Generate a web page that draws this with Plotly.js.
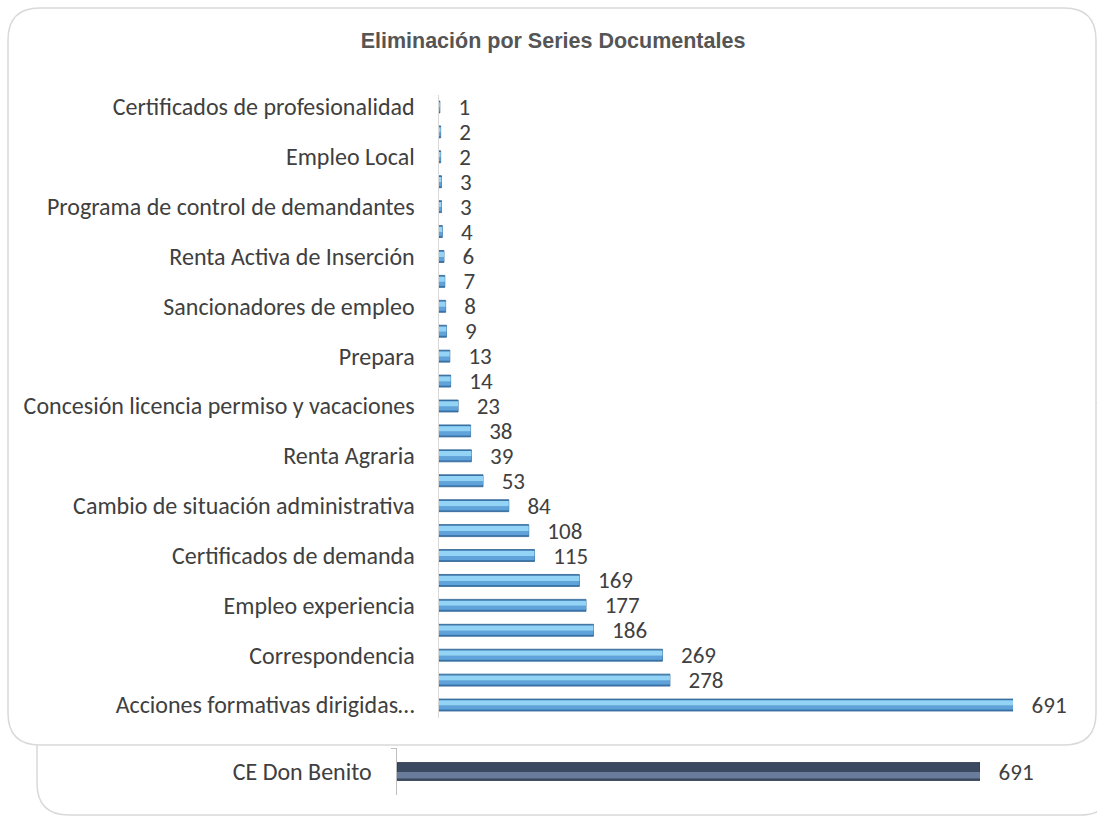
<!DOCTYPE html>
<html><head><meta charset="utf-8">
<script src="https://cdn.plot.ly/plotly-3.0.1.min.js"></script>
<style>html,body{margin:0;padding:0;background:#fff}#chart{width:1097px;height:817px}</style>
</head><body><div id="chart"></div>
<script>
// ---- data ----
const seriesLabels = ["Certificados de profesionalidad","","Empleo Local","","Programa de control de demandantes","","Renta Activa de Inserción","","Sancionadores de empleo","","Prepara","","Concesión licencia permiso y vacaciones","","Renta Agraria","","Cambio de situación administrativa","","Certificados de demanda","","Empleo experiencia","","Correspondencia","","Acciones formativas dirigidas…"];
const seriesValues = [1,2,2,3,3,4,6,7,8,9,13,14,23,38,39,53,84,108,115,169,177,186,269,278,691];
const centreLabels = ["CE Don Benito"];
const centreValues = [691];
const chartTitle = "Eliminación por Series Documentales";

// ---- layout helpers ----
const W = 1097, H = 817;
const fx = x => x / W, fy = y => 1 - y / H;
function roundRect(x0, y0, x1, y1, r) {
  return `M ${fx(x0+r)},${fy(y0)} L ${fx(x1-r)},${fy(y0)} Q ${fx(x1)},${fy(y0)} ${fx(x1)},${fy(y0+r)} ` +
         `L ${fx(x1)},${fy(y1-r)} Q ${fx(x1)},${fy(y1)} ${fx(x1-r)},${fy(y1)} ` +
         `L ${fx(x0+r)},${fy(y1)} Q ${fx(x0)},${fy(y1)} ${fx(x0)},${fy(y1-r)} ` +
         `L ${fx(x0)},${fy(y0+r)} Q ${fx(x0)},${fy(y0)} ${fx(x0+r)},${fy(y0)} Z`;
}

const idx = seriesValues.map((_, i) => i);
const tickIdx = idx.filter(i => seriesLabels[i] !== "");
const txtFont = {family: "Carlito, Lato, 'Liberation Sans', sans-serif", size: 24, color: "#404040"};
const valFont = {family: "Carlito, Lato, 'Liberation Sans', sans-serif", size: 23, color: "#404040"};
const pad = "\u00a0\u00a0\u00a0";

const traces = [
  { type: "bar", orientation: "h", x: seriesValues, y: idx, xaxis: "x", yaxis: "y",
    width: 0.48, marker: {color: "#3C77AE", line: {color: "#2F6594", width: 0.8}},
    texttemplate: pad + "%{x}", textposition: "outside", constraintext: "none",
    textfont: valFont, cliponaxis: false, hoverinfo: "skip" },
  { type: "bar", orientation: "h", x: seriesValues, y: idx, xaxis: "x", yaxis: "y",
    width: 0.16, offset: 0.02, marker: {color: "#5FA3DA", line: {width: 0}}, hoverinfo: "skip" },
  { type: "bar", orientation: "h", x: seriesValues, y: idx, xaxis: "x", yaxis: "y",
    width: 0.21, offset: -0.19, marker: {color: "#93D3F6", line: {width: 0}}, hoverinfo: "skip" },
  { type: "bar", orientation: "h", x: centreValues, y: centreLabels, xaxis: "x2", yaxis: "y2",
    width: 0.38, marker: {color: "#3B4A60", line: {color: "#28344A", width: 0.8}},
    texttemplate: pad + "%{x}", textposition: "outside", constraintext: "none",
    textfont: valFont, cliponaxis: false, hoverinfo: "skip" },
  { type: "bar", orientation: "h", x: centreValues, y: centreLabels, xaxis: "x2", yaxis: "y2",
    width: 0.14, offset: -0.15, marker: {color: "#6A7C9B", line: {width: 0}}, hoverinfo: "skip" }
];

const layout = {
  width: W, height: H, margin: {l: 0, r: 0, t: 0, b: 0},
  paper_bgcolor: "#ffffff", plot_bgcolor: "rgba(0,0,0,0)",
  showlegend: false, barmode: "overlay",
  title: {text: "<b>" + chartTitle + "</b>", x: 553 / W, xanchor: "center", y: fy(40), yanchor: "middle",
          font: {family: "'Liberation Sans Narrow', 'Arial Narrow', 'Liberation Sans', sans-serif", size: 21.5, color: "#555555"}},
  xaxis: {domain: [fx(439), fx(1013)], range: [0, 691], visible: false, fixedrange: true},
  yaxis: {domain: [fy(717.5), fy(94.5)], range: [24.5, -0.5], anchor: "x",
          tickvals: tickIdx, ticktext: tickIdx.map(i => seriesLabels[i]),
          ticks: "outside", ticklen: 18, tickcolor: "rgba(0,0,0,0)",
          showline: true, linecolor: "#D9D9D9", linewidth: 1.5, showgrid: false, zeroline: false,
          tickfont: txtFont},
  xaxis2: {domain: [fx(397), fx(980)], range: [0, 691], visible: false, anchor: "y2"},
  yaxis2: {domain: [fy(795), fy(748)], type: "category", anchor: "x2",
           tickson: "boundaries", ticks: "outside", ticklen: 5, tickcolor: "#BFBFBF",
           showline: true, linecolor: "#BFBFBF", linewidth: 1.5, showgrid: false,
           ticklabelstandoff: 19, tickfont: txtFont},
  shapes: [
    {type: "path", xref: "paper", yref: "paper", layer: "below", path: roundRect(37, 400, 1112, 815, 32),
     fillcolor: "#ffffff", line: {color: "#D9D9D9", width: 1.5}},
    {type: "path", xref: "paper", yref: "paper", layer: "below", path: roundRect(8, 8, 1096, 745, 32),
     fillcolor: "#ffffff", line: {color: "#D9D9D9", width: 1.5}}
  ]
};

Plotly.newPlot("chart", traces, layout, {staticPlot: true, displayModeBar: false});
</script>
</body></html>
